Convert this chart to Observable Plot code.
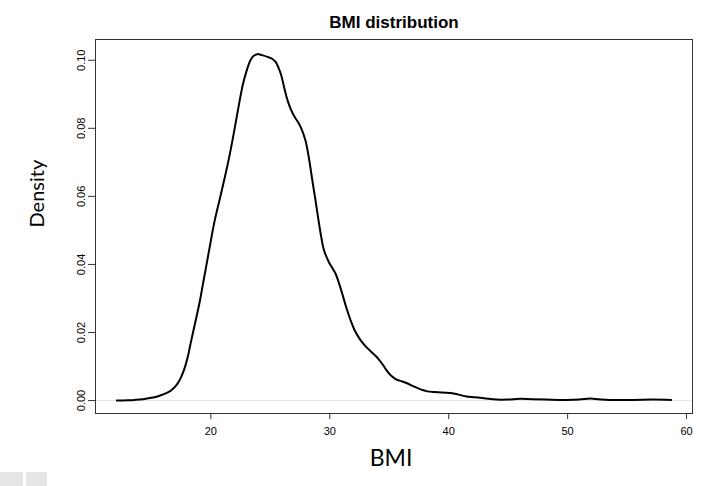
<!DOCTYPE html>
<html><head><meta charset="utf-8">
<script src="https://cdn.jsdelivr.net/npm/d3@7"></script>
<script src="https://cdn.jsdelivr.net/npm/@observablehq/plot@0.6"></script>
<style>
body{margin:0;background:#fff;}
#wrap{position:relative;width:706px;height:486px;}
.sq{position:absolute;background:#e6e6e6;}
</style>
</head><body><div id="wrap"></div>
<script>
const bmi = [12.1,13.0,13.6,14.3,15.0,15.5,16.0,16.5,16.8,17.2,17.5,17.8,18.05,18.3,18.6,18.85,19.1,19.4,19.7,20.0,20.3,20.7,21.1,21.5,21.9,22.3,22.7,23.0,23.3,23.6,23.9,24.3,24.9,25.2,25.45,25.7,25.9,26.2,26.45,26.7,27.0,27.3,27.6,27.95,28.2,28.4,28.6,28.8,29.05,29.3,29.5,29.75,29.95,30.2,30.5,30.8,31.05,31.4,31.75,32.1,32.6,33.0,33.4,33.8,34.1,34.45,34.8,35.1,35.5,36.0,36.5,36.9,37.3,37.8,38.2,38.8,39.4,40.1,40.5,41.0,41.5,42.2,43.0,44.0,45.0,46.0,47.0,48.2,49.9,51.0,51.9,52.6,53.5,55.5,57.2,58.7];
const density = [0,0.0001,0.0002,0.0004,0.0008,0.0012,0.0018,0.0026,0.0034,0.0050,0.0069,0.0096,0.0127,0.0168,0.0216,0.0255,0.0297,0.0355,0.0412,0.0470,0.0525,0.0585,0.0645,0.0708,0.0780,0.0858,0.0930,0.0968,0.0998,0.1013,0.1018,0.1015,0.1008,0.1003,0.0995,0.0977,0.0958,0.0915,0.0882,0.0858,0.0836,0.0820,0.0800,0.0765,0.0722,0.0678,0.0632,0.0588,0.0530,0.0477,0.0443,0.0420,0.0405,0.0390,0.0372,0.0342,0.0314,0.0272,0.0236,0.0206,0.0177,0.0160,0.0146,0.0133,0.0122,0.0106,0.0088,0.0075,0.0064,0.0057,0.0051,0.0044,0.0038,0.0031,0.0027,0.0025,0.0024,0.0022,0.0020,0.0016,0.0012,0.0010,0.0007,0.0003,0.0003,0.0005,0.0004,0.0003,0.0002,0.0003,0.0006,0.0004,0.0002,0.0002,0.0003,0.0002];
const xTicks = [20,30,40,50,60];
const yTicks = [0,0.02,0.04,0.06,0.08,0.10];
const titleText = "BMI distribution";
const xLabel = "BMI";
const yLabel = "Density";

const data = bmi.map((b,i)=>({bmi:b, density:density[i]}));

const plot = Plot.plot({
  width:706, height:486,
  marginLeft:95, marginRight:14, marginTop:39, marginBottom:73,
  style:{fontFamily:"'Liberation Sans', Arial, sans-serif", fontSize:"11px", color:"#000", background:"#fff"},
  x:{domain:[10.3,60.5]},
  y:{domain:[-0.0038,0.1061]},
  marks:[
    Plot.ruleY([0],{stroke:"#e6e6e6", strokeWidth:1}),
    Plot.frame({stroke:"#333"}),
    Plot.axisX({ticks:xTicks, tickSize:6, tickPadding:8, fontSize:11, label:null, tickFormat:d=>String(d), stroke:"#333"}),
    Plot.axisY({ticks:yTicks, tickSize:7, tickPadding:4, tickRotate:-90, textAnchor:"middle", fontSize:11, label:null, tickFormat:d3.format(".2f"), stroke:"#333"}),
    Plot.line(data,{x:"bmi", y:"density", stroke:"#000", strokeWidth:2, curve:"catmull-rom"}),
    Plot.text([titleText],{frameAnchor:"top", dy:-24, fontWeight:"bold", fontSize:17}),
    Plot.text([yLabel],{frameAnchor:"left", dx:-58, dy:1, rotate:-90, fontSize:20, fontFamily:"Lato"}),
    Plot.text([xLabel],{frameAnchor:"bottom", dx:-3, dy:52, fontSize:23, fontFamily:"Lato"})
  ]
});
const wrap = document.getElementById("wrap");
wrap.appendChild(plot);
[[0,472,23,14],[26,472,21,14]].forEach(([l,t,w,h])=>{
  const d=document.createElement("div");d.className="sq";
  d.style.left=l+"px";d.style.top=t+"px";d.style.width=w+"px";d.style.height=h+"px";
  wrap.appendChild(d);
});
</script>
</body></html>
